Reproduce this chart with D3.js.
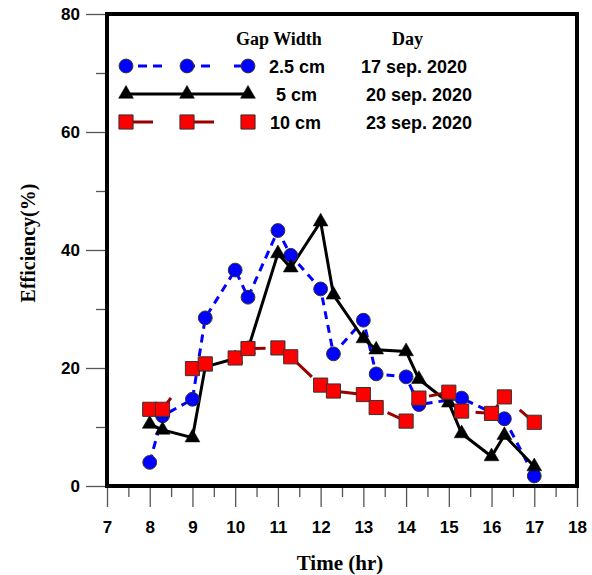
<!DOCTYPE html>
<html>
<head>
<meta charset="utf-8">
<script src="https://cdn.jsdelivr.net/npm/d3@7"></script>
<style>
  html, body { margin: 0; padding: 0; background: #fff; }
  svg { display: block; }
</style>
</head>
<body>
<svg id="chart" width="592" height="575"></svg>
<script>
// Measured hours of day for each series
const hours25 = [8, 8.3, 9, 9.3, 10, 10.3, 11, 11.3, 12, 12.3, 13, 13.3, 14, 14.3, 15.3, 16.3, 17];
const eff25   = [4.0, 11.9, 14.7, 28.5, 36.6, 32.0, 43.3, 39.1, 33.4, 22.4, 28.1, 19.0, 18.5, 13.8, 14.9, 11.4, 1.7];

const hours5 = [8, 8.3, 9, 9.3, 10, 10.3, 11, 11.3, 12, 12.3, 13, 13.3, 14, 14.3, 15, 15.3, 16, 16.3, 17];
const eff5   = [10.5, 9.5, 8.2, 20.2, 21.6, 23.2, 39.4, 37.0, 44.8, 32.4, 25.0, 23.1, 22.8, 18.1, 14.1, 8.9, 5.0, 8.6, 3.3];

const hours10 = [8, 8.3, 9, 9.3, 10, 10.3, 11, 11.3, 12, 12.3, 13, 13.3, 14, 14.3, 15, 15.3, 16, 16.3, 17];
const eff10   = [13.0, 13.0, 19.9, 20.7, 21.7, 23.3, 23.4, 21.9, 17.1, 16.1, 15.5, 13.3, 11.0, 14.9, 15.9, 12.7, 12.3, 15.1, 10.8];

const seriesNames = ["2.5 cm", "5 cm", "10 cm"];
const seriesDays  = ["17 sep. 2020", "20 sep. 2020", "23 sep. 2020"];

const xTicks = [7, 8, 9, 10, 11, 12, 13, 14, 15, 16, 17, 18];
const yTicks = [0, 20, 40, 60, 80];

const svg = d3.select("#chart");
const plotLeft = 107, plotRight = 577, plotTop = 14, plotBottom = 486;

const x = d3.scaleLinear().domain([7, 18]).range([plotLeft, plotRight]);
const y = d3.scaleLinear().domain([0, 80]).range([plotBottom, plotTop]);

// Axes with major and minor ticks
const tickColor = "#555";
const yMinor = d3.range(0, 81, 10).filter(v => v % 20 !== 0);
const xMinor = d3.range(7.5, 18, 1);

svg.append("g").attr("transform", `translate(${plotLeft},0)`)
  .call(d3.axisLeft(y).tickValues(yTicks).tickSize(21).tickPadding(6).tickFormat(d3.format("d")));
svg.append("g").attr("transform", `translate(${plotLeft},0)`)
  .call(d3.axisLeft(y).tickValues(yMinor).tickSize(11).tickFormat(""));
svg.append("g").attr("transform", `translate(0,${plotBottom})`)
  .call(d3.axisBottom(x).tickValues(xTicks).tickSize(21).tickPadding(14).tickFormat(d3.format("d")));
svg.append("g").attr("transform", `translate(0,${plotBottom})`)
  .call(d3.axisBottom(x).tickValues(xMinor).tickSize(11).tickFormat(""));

svg.selectAll(".domain").remove();
svg.selectAll(".tick line").attr("stroke", tickColor).attr("stroke-width", 1.3);
svg.selectAll(".tick text")
  .attr("font-family", "Liberation Sans, Arial, sans-serif")
  .attr("font-weight", "bold")
  .attr("font-size", 17)
  .attr("fill", "#000");

// Frame around the plot area
svg.append("rect")
  .attr("x", plotLeft).attr("y", plotTop)
  .attr("width", plotRight - plotLeft).attr("height", plotBottom - plotTop)
  .attr("fill", "none").attr("stroke", "#000").attr("stroke-width", 4);

// Axis titles
svg.append("text")
  .attr("x", 340).attr("y", 570)
  .attr("text-anchor", "middle")
  .attr("font-family", "Liberation Serif, Times New Roman, serif")
  .attr("font-weight", "bold").attr("font-size", 21)
  .text("Time (hr)");
svg.append("text")
  .attr("transform", "translate(35,243) rotate(-90)")
  .attr("text-anchor", "middle")
  .attr("font-family", "Liberation Serif, Times New Roman, serif")
  .attr("font-weight", "bold").attr("font-size", 20)
  .text("Efficiency(%)");

const line = d3.line().x(d => x(d[0])).y(d => y(d[1]));

const series = [
  { xs: hours25, ys: eff25, stroke: "#0000ff", dash: "8,6", marker: "circle", fill: "#0000ff" },
  { xs: hours5,  ys: eff5,  stroke: "#000000", dash: null,  marker: "triangle", fill: "#000000" },
  { xs: hours10, ys: eff10, stroke: "#990000", dash: "27,30", marker: "square", fill: "#ff0000" }
];

const symbolFor = {
  circle: d3.symbol().type(d3.symbolCircle).size(150),
  triangle: d3.symbol().type(d3.symbolTriangle).size(95),
  square: d3.symbol().type(d3.symbolSquare).size(200)
};

function drawMarker(g, kind, cx, cy, fill) {
  const p = g.append("path")
    .attr("d", symbolFor[kind]())
    .attr("transform", `translate(${cx},${cy})`)
    .attr("fill", fill);
  if (kind === "triangle") p.attr("stroke", "#000").attr("stroke-width", 0.5);
  else p.attr("stroke", "#333").attr("stroke-width", 1);
}

const plot = svg.append("g");
series.forEach(s => {
  const pts = s.xs.map((h, i) => [h, s.ys[i]]);
  const path = plot.append("path")
    .datum(pts)
    .attr("d", line)
    .attr("fill", "none")
    .attr("stroke", s.stroke)
    .attr("stroke-width", 3);
  if (s.dash) path.attr("stroke-dasharray", s.dash);
});
// Markers on top of all lines, drawn per series
series.forEach(s => {
  const g = plot.append("g");
  s.xs.forEach((h, i) => drawMarker(g, s.marker, x(h), y(s.ys[i]), s.fill));
});

// Legend
const legend = svg.append("g");
legend.append("text").attr("x", 236).attr("y", 45)
  .attr("font-family", "Liberation Serif, Times New Roman, serif")
  .attr("font-weight", "bold").attr("font-size", 18).text("Gap Width");
legend.append("text").attr("x", 392).attr("y", 45)
  .attr("font-family", "Liberation Serif, Times New Roman, serif")
  .attr("font-weight", "bold").attr("font-size", 18).text("Day");

const legendRows = [66, 94, 122];
const legendMarkerX = [126, 187, 248];
const nameX = [269, 276, 270];
const dayX = [361, 366, 366];
series.forEach((s, i) => {
  const ly = legendRows[i];
  const seg = legend.append("line")
    .attr("x1", legendMarkerX[0]).attr("x2", legendMarkerX[2])
    .attr("y1", ly).attr("y2", ly)
    .attr("stroke", s.stroke).attr("stroke-width", 3);
  if (s.dash) seg.attr("stroke-dasharray", i === 0 ? "0,12,9,6,9,12,0,12,9,6,9,12" : "27,34");
  legendMarkerX.forEach(mx => drawMarker(legend, s.marker, mx, ly, s.fill));
  legend.append("text").attr("x", nameX[i]).attr("y", ly + 7)
    .attr("font-family", "Liberation Sans, Arial, sans-serif")
    .attr("font-weight", "bold").attr("font-size", 18).text(seriesNames[i]);
  legend.append("text").attr("x", dayX[i]).attr("y", ly + 7)
    .attr("font-family", "Liberation Sans, Arial, sans-serif")
    .attr("font-weight", "bold").attr("font-size", 18).text(seriesDays[i]);
});
</script>
</body>
</html>
